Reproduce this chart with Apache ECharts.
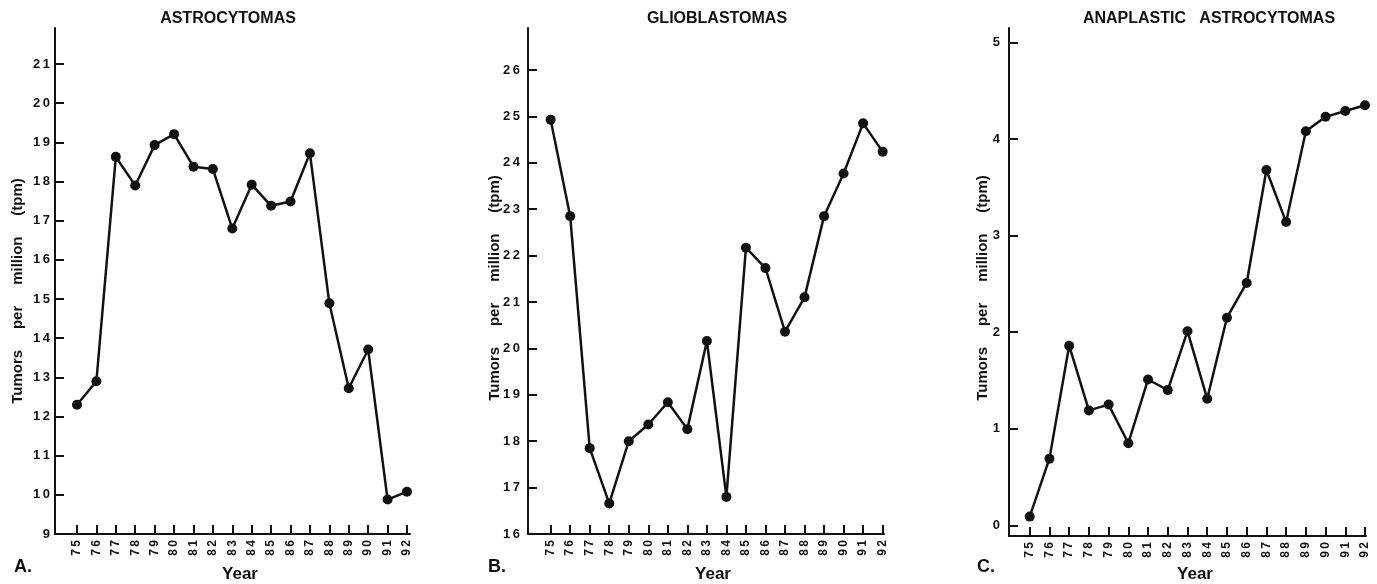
<!DOCTYPE html>
<html>
<head>
<meta charset="utf-8">
<script src="https://cdn.jsdelivr.net/npm/echarts@6/dist/echarts.min.js"></script>
<style>
  html, body { margin: 0; padding: 0; background: #fff; }
  #chart { width: 1377px; height: 584px; }
</style>
</head>
<body>
<div id="chart"></div>
<script>
// Year of diagnosis (19xx)
const years = [75, 76, 77, 78, 79, 80, 81, 82, 83, 84, 85, 86, 87, 88, 89, 90, 91, 92];

// Incidence, tumors per million (tpm)
const astrocytomas = [12.3, 12.9, 18.63, 17.9, 18.93, 19.21, 18.38, 18.32, 16.8, 17.92, 17.38, 17.49, 18.72, 14.89, 12.72, 13.71, 9.88, 10.08];
const glioblastomas = [24.93, 22.85, 17.85, 16.66, 18.0, 18.36, 18.84, 18.26, 20.16, 16.8, 22.17, 21.73, 20.36, 21.1, 22.85, 23.77, 24.85, 24.24];
const anaplastic = [0.09, 0.69, 1.86, 1.19, 1.25, 0.85, 1.51, 1.4, 2.01, 1.31, 2.15, 2.51, 3.68, 3.14, 4.08, 4.23, 4.29, 4.35];

// Tick labels on each vertical axis
const astroTicks = [9, 10, 11, 12, 13, 14, 15, 16, 17, 18, 19, 20, 21];
const glioTicks = [16, 17, 18, 19, 20, 21, 22, 23, 24, 25, 26];
const anaTicks = [0, 1, 2, 3, 4, 5];

const panelTitles = ['ASTROCYTOMAS', 'GLIOBLASTOMAS', 'ANAPLASTIC   ASTROCYTOMAS'];
const panelLetters = ['A.', 'B.', 'C.'];
const yTitle = 'Tumors     per     million     (tpm)';
const xTitle = 'Year';

const FONT = '"Liberation Sans", Arial, Helvetica, sans-serif';
const INK = '#111';

// spread digits a little, like the typeset labels
const spaced = v => String(v).split('').join('\u2009');

const panels = [
  { data: astrocytomas, ticks: astroTicks, grid: { left: 55, top: 28, width: 355, height: 506 },
    x: [73.867, 92.155], y: [9, 21.92], labelMargin: 5,
    title: [228, 19], yName: [17.5, 291], letter: [23, 567], xName: [240, 574] },
  { data: glioblastomas, ticks: glioTicks, grid: { left: 528, top: 28, width: 356, height: 506 },
    x: [73.84, 92.07], y: [16, 26.905], labelMargin: 8,
    title: [717, 19], yName: [495, 288], letter: [497, 567], xName: [713, 574] },
  { data: anaplastic, ticks: anaTicks, grid: { left: 1009, top: 28, width: 357, height: 508 },
    x: [73.95, 92.05], y: [-0.111, 5.15], labelMargin: 9,
    title: [1209, 19], yName: [983, 288], letter: [986, 567], xName: [1195, 574] }
];

const grids = [], xAxes = [], yAxes = [], series = [], graphics = [];

panels.forEach((p, i) => {
  grids.push(Object.assign({ containLabel: false }, p.grid));

  xAxes.push({
    type: 'value', gridIndex: i, min: p.x[0], max: p.x[1],
    axisLine: { show: true, onZero: false, lineStyle: { color: INK, width: 2 } },
    axisTick: { show: true, inside: true, length: 9, customValues: years, lineStyle: { color: INK, width: 2 } },
    axisLabel: { show: true, customValues: years, rotate: 90, margin: 6, formatter: spaced,
      color: INK, fontFamily: FONT, fontWeight: 'bold', fontSize: 12 },
    splitLine: { show: false }
  });

  yAxes.push({
    type: 'value', gridIndex: i, min: p.y[0], max: p.y[1],
    axisLine: { show: true, onZero: false, lineStyle: { color: INK, width: 2 } },
    axisTick: { show: true, inside: true, length: 9, customValues: p.ticks, lineStyle: { color: INK, width: 2 } },
    axisLabel: { show: true, customValues: p.ticks, margin: p.labelMargin, formatter: spaced,
      color: INK, fontFamily: FONT, fontWeight: 'bold', fontSize: 13 },
    splitLine: { show: false }
  });

  series.push({
    type: 'line', xAxisIndex: i, yAxisIndex: i,
    data: years.map((yr, k) => [yr, p.data[k]]),
    symbol: 'circle', symbolSize: 10, showSymbol: true,
    lineStyle: { color: INK, width: 2.5 },
    itemStyle: { color: INK },
    animation: false
  });

  graphics.push(
    { type: 'text', x: p.title[0], y: p.title[1],
      style: { text: panelTitles[i], align: 'center', verticalAlign: 'middle',
        font: 'bold 16px ' + FONT, fill: INK } },
    { type: 'text', x: p.yName[0], y: p.yName[1], rotation: Math.PI / 2,
      style: { text: yTitle, align: 'center', verticalAlign: 'middle',
        font: 'bold 15px ' + FONT, fill: INK } },
    { type: 'text', x: p.letter[0], y: p.letter[1],
      style: { text: panelLetters[i], align: 'center', verticalAlign: 'middle',
        font: 'bold 18px ' + FONT, fill: INK } },
    { type: 'text', x: p.xName[0], y: p.xName[1],
      style: { text: xTitle, align: 'center', verticalAlign: 'middle',
        font: 'bold 17px ' + FONT, fill: INK } }
  );
});

const chart = echarts.init(document.getElementById('chart'), null, { renderer: 'canvas' });
chart.setOption({
  backgroundColor: '#fff',
  animation: false,
  grid: grids,
  xAxis: xAxes,
  yAxis: yAxes,
  series: series,
  graphic: graphics
});
</script>
</body>
</html>
